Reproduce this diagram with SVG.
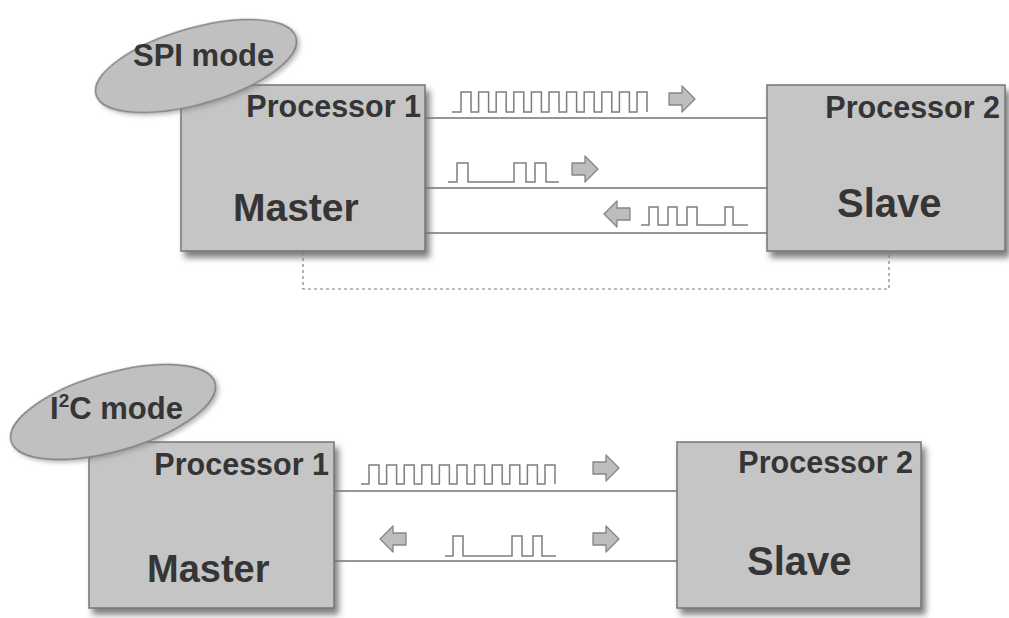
<svg xmlns="http://www.w3.org/2000/svg" width="1009" height="618" viewBox="0 0 1009 618">
  <style>
    .box { fill: #c5c5c5; stroke: #757575; stroke-width: 1.5; filter: url(#shadow); }
    .oval { fill: #c0c0c0; stroke: #7e7e7e; stroke-width: 1.5; filter: url(#softShadow); }
    .title { font-family: "Liberation Sans", Arial, sans-serif; font-weight: bold; fill: #353535; }
    .proc { font-size: 30.5px; text-anchor: end; }
    .wire { stroke: #737373; stroke-width: 1.5; fill: none; }
    .sig { stroke: #7e7e7e; stroke-width: 1.5; fill: none; }
    .dash { stroke: #7e7e7e; stroke-width: 1.2; fill: none; stroke-dasharray: 3 3; }
    .arrow { fill: #bdbdbd; stroke: #858585; stroke-width: 1.3; stroke-linejoin: round; }
  </style>
  <defs>
    <filter id="shadow" x="-10%" y="-10%" width="125%" height="130%">
      <feDropShadow dx="4" dy="6" stdDeviation="3" flood-color="#555" flood-opacity="0.75"/>
    </filter>
    <filter id="softShadow" x="-10%" y="-20%" width="125%" height="150%">
      <feDropShadow dx="2" dy="3" stdDeviation="2" flood-color="#777" flood-opacity="0.5"/>
    </filter>
    <!-- right-pointing block arrow centred on the origin -->
    <path id="blockArrow" class="arrow" d="M-13,-6 H0 V-13 L13,0 L0,13 V6 H-13 Z"/>
  </defs>

  <rect width="1009" height="618" fill="#ffffff"/>

  <!-- SPI mode section -->
  <g id="spi-master">
    <rect class="box" x="181" y="85" width="244" height="166"/>
    <text class="title proc" x="421" y="117">Processor 1</text>
    <text class="title" x="233" y="221" font-size="39">Master</text>
  </g>
  <g id="spi-label">
    <ellipse class="oval" cx="196" cy="66" rx="104" ry="38" transform="rotate(-16 196 66)"/>
    <text class="title" x="133" y="66" font-size="31">SPI mode</text>
  </g>
  <g id="spi-slave">
    <rect class="box" x="767" y="85" width="238" height="166"/>
    <text class="title proc" x="1000" y="118">Processor 2</text>
    <text class="title" x="837" y="217" font-size="40">Slave</text>
  </g>

  <!-- I2C mode section -->
  <g id="i2c-master">
    <rect class="box" x="89" y="442" width="245" height="166"/>
    <text class="title proc" x="329" y="475">Processor 1</text>
    <text class="title" x="147" y="582" font-size="38">Master</text>
  </g>
  <g id="i2c-label">
    <ellipse class="oval" cx="113" cy="412" rx="106" ry="39" transform="rotate(-16 113 412)"/>
    <text class="title" x="50" y="419" font-size="31">I<tspan font-size="19" dy="-12">2</tspan><tspan dy="12">C mode</tspan></text>
  </g>
  <g id="i2c-slave">
    <rect class="box" x="677" y="442" width="244" height="166"/>
    <text class="title proc" x="913" y="473">Processor 2</text>
    <text class="title" x="747" y="575" font-size="40">Slave</text>
  </g>

  <!-- connectors: bus lines, waveforms and direction arrows -->
  <g id="connectors">
    <!-- SPI lines -->
    <line class="wire" x1="425" y1="118" x2="767" y2="118"/>
    <line class="wire" x1="425" y1="188" x2="767" y2="188"/>
    <line class="wire" x1="425" y1="233" x2="767" y2="233"/>
    <path class="dash" d="M303,252 V289 H889 V252"/>

    <!-- SPI clock: 11 pulses -->
    <path class="sig" d="M452,112 H461 V92 H471 V112 H478.6 V92 H488.6 V112 H496.2 V92 H506.2 V112 H513.8 V92 H523.8 V112 H531.4 V92 H541.4 V112 H549 V92 H559 V112 H566.6 V92 H576.6 V112 H584.2 V92 H594.2 V112 H601.8 V92 H611.8 V112 H619.4 V92 H629.4 V112 H637 V92 H647 V112"/>
    <use href="#blockArrow" x="682" y="99"/>

    <!-- SPI data out -->
    <path class="sig" d="M448,182 H457 V163 H468 V182 H514 V163 H526 V182 H535 V163 H546 V182 H559"/>
    <use href="#blockArrow" x="585" y="169"/>

    <!-- SPI data in -->
    <path class="sig" d="M641,225 H649 V207 H658 V225 H668 V207 H677 V225 H687 V207 H697 V225 H725 V207 H733 V225 H748"/>
    <use href="#blockArrow" transform="translate(617 214) scale(-1 1)"/>

    <!-- I2C lines -->
    <line class="wire" x1="334" y1="491" x2="677" y2="491"/>
    <line class="wire" x1="334" y1="561" x2="677" y2="561"/>

    <!-- I2C clock: 11 pulses -->
    <path class="sig" d="M361,484 H369 V465 H379 V484 H386.6 V465 H396.6 V484 H404.2 V465 H414.2 V484 H421.8 V465 H431.8 V484 H439.4 V465 H449.4 V484 H457 V465 H467 V484 H474.6 V465 H484.6 V484 H492.2 V465 H502.2 V484 H509.8 V465 H519.8 V484 H527.4 V465 H537.4 V484 H545 V465 H555 V484"/>
    <use href="#blockArrow" x="606" y="468"/>

    <!-- I2C bidirectional data -->
    <path class="sig" d="M445,556 H453 V536 H463 V556 H512 V536 H522 V556 H533 V536 H542 V556 H556"/>
    <use href="#blockArrow" transform="translate(393 539) scale(-1 1)"/>
    <use href="#blockArrow" x="606" y="539"/>
  </g>
</svg>
